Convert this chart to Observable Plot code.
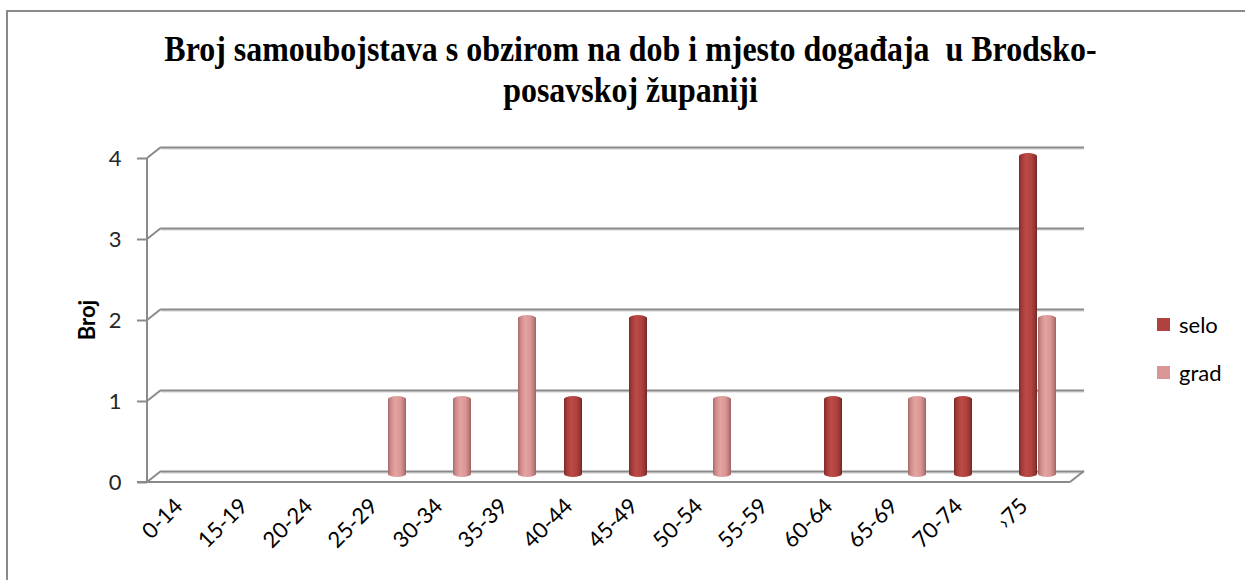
<!DOCTYPE html>
<html>
<head>
<meta charset="utf-8">
<script src="https://cdn.jsdelivr.net/npm/d3@7"></script>
<script src="https://cdn.jsdelivr.net/npm/@observablehq/plot@0.6"></script>
<style>
  html, body { margin: 0; padding: 0; background: #fff; }
  #wrap { position: relative; width: 1245px; height: 580px; overflow: hidden; background: #fff; }
  #border { position: absolute; left: 6px; top: 10px; width: 1260px; height: 600px; border-top: 2px solid #8a8a8a; border-left: 2px solid #8a8a8a; box-sizing: border-box; }
  #title { position: absolute; left: 8px; top: 28px; width: 1245px; text-align: center; font-family: "Liberation Serif", "Times New Roman", serif; font-weight: bold; font-size: 31px; line-height: 35px; color: #000; transform: scale(1.03, 1.18); transform-origin: 50% 0; white-space: nowrap; }
  #ylabel { position: absolute; left: 86px; top: 320px; transform: translate(-50%, -50%) rotate(-90deg); font-family: Lato, "Noto Sans", sans-serif; font-weight: bold; font-size: 22px; color: #000; white-space: nowrap; }
  #legend { position: absolute; left: 1157px; top: 309px; font-family: Lato, "Noto Sans", sans-serif; font-size: 22px; color: #000; }
  .li { display: flex; align-items: center; height: 30px; margin-bottom: 18px; }
  .sw { width: 13px; height: 13px; margin-right: 9px; }
  #chart { position: absolute; left: 0; top: 0; }
</style>
</head>
<body>
<div id="wrap">
  <div id="border"></div>
  <div id="chart"></div>
  <div id="title">Broj samoubojstava s obzirom na dob i mjesto događaja&nbsp; u Brodsko-<br>posavskoj županiji</div>
  <div id="ylabel">Broj</div>
  <div id="legend"></div>
</div>
<script>
const categories = ["0-14","15-19","20-24","25-29","30-34","35-39","40-44","45-49","50-54","55-59","60-64","65-69","70-74","›75"];
const seriesNames = ["selo","grad"];
const seloValues = [0,0,0,0,0,0,1,2,0,0,1,0,1,4];
const gradValues = [0,0,0,1,1,2,0,0,1,0,0,1,0,2];
const yTicks = [0,1,2,3,4];
const seriesColors = ["#b0413e","#d99694"];

const rows = [];
categories.forEach((c, i) => {
  rows.push({cat: c, series: "selo", value: seloValues[i]});
  rows.push({cat: c, series: "grad", value: gradValues[i]});
});
const seloRows = rows.filter(d => d.series === "selo" && d.value > 0);
const gradRows = rows.filter(d => d.series === "grad" && d.value > 0);

const DX = 14, DY = -11; // depth of the 3D wall
const gridColor = "#8a8a8a";

function frame3d(index, scales, values, dims) {
  const g = d3.create("svg:g");
  const y = scales.y;
  const x0 = dims.marginLeft, x1 = dims.width - dims.marginRight;
  const yb = y(0), yt = y(4);
  for (const t of yTicks) {
    g.append("line").attr("x1", x0).attr("y1", y(t)).attr("x2", x0 + DX).attr("y2", y(t) + DY)
      .attr("stroke", gridColor).attr("stroke-width", 2);
  }
  g.append("line").attr("x1", x0 - 10).attr("y1", yb).attr("x2", x1).attr("y2", yb)
    .attr("stroke", gridColor).attr("stroke-width", 2);
  g.append("line").attr("x1", x1).attr("y1", yb).attr("x2", x1 + DX).attr("y2", yb + DY)
    .attr("stroke", gridColor).attr("stroke-width", 2);
  g.append("line").attr("x1", x0).attr("y1", yt).attr("x2", x0).attr("y2", yb)
    .attr("stroke", gridColor).attr("stroke-width", 2);
  return g.node();
}

const plot = Plot.plot({
  width: 1245,
  height: 580,
  marginLeft: 147,
  marginRight: 175,
  marginTop: 158,
  marginBottom: 98,
  style: {fontFamily: "Lato, 'Noto Sans', sans-serif", fontSize: "22px", color: "#262626", background: "transparent"},
  x: {domain: categories, padding: 0, label: null},
  y: {domain: [0, 4], label: null},
  marks: [
    Plot.ruleY(yTicks, {dx: DX, dy: DY + 1.5, stroke: "#e6e6e6", strokeWidth: 2}),
    Plot.ruleY(yTicks, {dx: DX, dy: DY, stroke: gridColor, strokeWidth: 2}),
    frame3d,
    Plot.barY(seloRows, {x: "cat", y: "value", fill: "url(#cylSelo)", insetLeft: 13, insetRight: 34, dx: 7, dy: -5, rx: 9, ry: 3}),
    Plot.barY(gradRows, {x: "cat", y: "value", fill: "url(#cylGrad)", insetLeft: 32, insetRight: 15, dx: 7, dy: -5, rx: 9, ry: 3}),
    Plot.axisY({ticks: yTicks, tickFormat: d => String(d), tickSize: 10, tickPadding: 16, stroke: gridColor, strokeWidth: 2, fill: "#262626", fontSize: 22, label: null}),
    Plot.axisX({tickRotate: -45, tickSize: 0, tickPadding: 20, dx: -8, fill: "#000", fontSize: 22, label: null})
  ]
});

const defs = d3.select(plot).insert("defs", ":first-child");
function cyl(id, stops) {
  const lg = defs.append("linearGradient").attr("id", id).attr("x1", "0").attr("x2", "1").attr("y1", "0").attr("y2", "0");
  stops.forEach(([o, c]) => lg.append("stop").attr("offset", o).attr("stop-color", c));
}
cyl("cylSelo", [[0, "#7a2a28"], [0.15, "#a33b38"], [0.4, "#bd4b48"], [0.7, "#b0413e"], [0.9, "#8e3432"], [1, "#6e2523"]]);
cyl("cylGrad", [[0, "#a26b69"], [0.15, "#cf8a88"], [0.4, "#e3a4a2"], [0.7, "#d99694"], [0.9, "#b97876"], [1, "#9a6260"]]);

document.getElementById("chart").appendChild(plot);

const legend = document.getElementById("legend");
seriesNames.forEach((s, i) => {
  const item = document.createElement("div");
  item.className = "li";
  const sw = document.createElement("div");
  sw.className = "sw";
  sw.style.background = seriesColors[i];
  const tx = document.createElement("span");
  tx.textContent = s;
  item.appendChild(sw); item.appendChild(tx);
  legend.appendChild(item);
});
</script>
</body>
</html>
